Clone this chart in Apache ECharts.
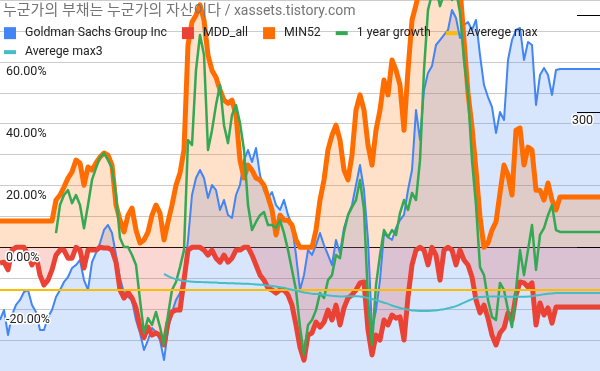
<!DOCTYPE html>
<html><head><meta charset="utf-8">
<script src="https://cdn.jsdelivr.net/npm/echarts@6/dist/echarts.min.js"></script>
<style>html,body{margin:0;padding:0;background:#fff}#c{width:600px;height:371px}</style>
</head><body><div id="c"></div>
<script>
const titleKo = '누군가의 부채는 누군가의 자산이다';
const titleEn = ' / xassets.tistory.com';
const seriesNames = ['Goldman Sachs Group Inc', 'MDD_all', 'MIN52', '1 year growth', 'Averege max', 'Averege max3'];

const goldman = [
87.2, 97.4, 71.8, 92.3, 102.6, 107.7, 115.9, 118.0, 102.6, 95.4,
76.9, 76.9, 90.2, 97.4, 110.8, 118.0, 126.2, 131.3, 140.5, 143.6,
148.8, 128.2, 118.0, 146.7, 156.0, 166.2, 179.6, 184.7, 176.5, 153.9,
130.3, 114.9, 110.8, 107.7, 87.2, 73.8, 56.4, 66.6, 78.9, 74.8,
66.6, 46.1, 76.9, 95.4, 107.7, 114.9, 133.4, 169.3, 215.5, 233.0,
241.2, 233.0, 212.4, 225.8, 220.6, 200.1, 210.4, 195.0, 191.9, 215.5,
225.8, 251.4, 261.7, 249.4, 263.8, 236.0, 220.6, 212.4, 218.6, 205.2,
200.1, 210.4, 195.0, 184.7, 153.9, 118.0, 133.4, 159.0, 153.9, 164.1,
176.5, 164.1, 153.9, 143.6, 169.3, 155.9, 181.6, 195.0, 205.2, 225.8,
246.3, 220.6, 169.3, 76.9, 97.4, 128.2, 176.5, 172.4, 169.3, 181.6,
189.8, 195.0, 220.6, 241.2, 302.8, 272.0, 323.3, 340.8, 347.9, 369.5,
374.6, 379.8, 384.9, 405.4, 397.2, 376.7, 390.0, 393.1, 384.9, 395.2,
359.2, 328.4, 316.1, 305.9, 279.2, 300.7, 292.5, 354.1, 374.6, 384.9,
387.0, 354.1, 372.6, 369.5, 307.9, 338.7, 345.9, 338.7, 318.2, 343.8,
344.9, 344.9, 344.9, 344.9, 344.9, 344.9, 344.9, 344.9, 344.9, 344.9, 344.9
];

const mddAll = [
-5.1, -4.8, -7.3, -0.9, 0, 0, 0, -2.5, -5.7, -2.5,
-9.0, -12.2, -10.6, -7.3, -2.5, -0.9, -0.9, -3.5, -3.5, 0,
-0.9, -6.7, -0.9, -0.9, -0.9, 0, -0.2, -0.2, -0.9, -4.8,
-13.8, -16.4, -14.5, -16.4, -19.6, -25.8, -29.2, -25.8, -28.4, -27.7,
-28.4, -31.6, -24.2, -20.9, -20.3, -20.3, -10.6, -0.9, 0, 0,
0, -0.9, -2.5, -0.9, -3.5, -4.8, -2.5, -4.8, -3.5, -0.9,
-0.9, 0, 0, -2.5, -5.7, -9.0, -10.6, -13.2, -13.8, -14.8,
-13.8, -13.8, -15.4, -18.7, -25.1, -32.3, -36.5, -28.4, -27.7, -24.2,
-25.8, -24.2, -20.3, -23.5, -18.7, -25.1, -19.6, -16.4, -15.4, -13.8,
-11.5, -11.2, -26.7, -34.8, -28.4, -30.0, -23.5, -25.1, -21.9, -22.9,
-22.5, -30.0, -16.1, -5.7, -0.9, 0, -0.9, -5.7, 0, -2.5,
-10.6, -0.9, 0, -0.9, -5.7, -0.9, -4.1, -5.7, -9.6, -17.0,
-21.2, -18.7, -22.9, -28.4, -31.6, -27.7, -26.1, -21.2, -23.5, -15.4,
-11.2, -11.5, -12.8, -11.5, -25.1, -18.0, -21.9, -19.6, -24.5, -19.3,
-19.3, -19.3, -19.3, -19.3, -19.3, -19.3, -19.3, -19.3, -19.3, -19.3, -19.3
];

const min52 = [
8.5, 8.5, 8.5, 8.5, 8.5, 8.5, 8.5, 8.5, 8.5, 8.5,
8.5, 8.5, 8.5, 8.5, 15.3, 16.9, 19.5, 22.4, 24.4, 28.2,
27.3, 20.1, 26.0, 25.0, 27.3, 29.2, 30.5, 29.8, 26.6, 13.7,
8.8, 5.0, 10.4, 12.7, 5.6, 1.4, 2.4, 4.9, 10.4, 13.7,
11.1, 2.4, 8.2, 13.7, 20.1, 24.0, 31.5, 65.4, 72.9, 75.1,
78.4, 73.5, 62.2, 57.2, 55.0, 50.9, 47.6, 46.6, 47.6, 42.8,
28.2, 22.4, 26.6, 25.0, 22.4, 21.8, 20.1, 16.3, 12.1, 4.0,
10.4, 8.8, 8.8, 7.2, 2.4, 0, 0, 0, 0, 5.6,
15.3, 21.8, 31.5, 36.3, 39.5, 34.7, 25.0, 21.8, 29.9, 44.4,
49.3, 44.4, 33.1, 26.6, 37.9, 44.4, 54.1, 49.3, 60.6, 57.3,
52.5, 37.9, 57.3, 73.5, 78.4, 84, 86, 88, 87, 90,
88, 86, 89, 87, 85, 84, 67.0, 49.9, 38.9, 25.0,
9.8, 0, 1.4, 5.6, 8.2, 17.6, 26.6, 23.4, 16.9, 37.9,
38.6, 26.6, 32.4, 31.5, 18.5, 18.5, 15.3, 20.8, 15.3, 12.1,
16.3, 16.3, 16.3, 16.3, 16.3, 16.3, 16.3, 16.3, 16.3, 16.3, 16.3
];

const growth1y = [
null, null, null, null, null, null, null, null, null, null,
null, null, null, null, 4.6, 13.7, 16.9, 18.5, 14.3, 16.9,
13.7, 6.2, 13.7, 21.8, 25.6, 29.2, 30.5, 28.2, 25.6, 16.9,
3.0, 0.1, 0.1, -2.5, -5.7, -17.0, -27.7, -22.9, -25.1, -20.9,
-25.8, -31.6, -21.9, -13.8, -11.2, -6.4, -0.9, 34.7, 33.1, 57.3,
68.7, 62.2, 31.5, 37.9, 46.0, 52.5, 39.5, 33.7, 42.8, 46.0,
40.2, 31.5, 13.7, 5.6, 8.2, 10.4, 11.4, 7.2, 7.2, 6.2,
8.8, 4.6, -0.9, -7.3, -13.8, -25.8, -34.8, -25.1, -23.5, -20.3,
-14.8, -16.4, -10.6, -9.0, -2.5, -3.5, 4.9, 10.4, 13.0, 15.3,
21.8, 12.1, -17.0, -31.6, -12.2, -2.5, 5.6, 3.3, 5.6, 4.0,
11.1, 15.3, 12.1, 17.6, 15.3, 28.2, 57.3, 76.8, 82, 84,
78, 82, 85, 80, 83, 76, 60.6, 49.9, 28.2, 13.7,
-6.4, -9.0, -17.0, -22.5, -23.5, -11.5, -13.8, -20.3, -25.8, -13.8,
-0.9, -9.0, -0.9, 7.2, -7.3, 4.0, 6.2, 10.4, 13.7, 5.6,
5.0, 5.0, 5.0, 5.0, 5.0, 5.0, 5.0, 5.0, 5.0, 5.0, 5.0
];

const averegeMax = -13.8;

const averegeMax3 = [
null, null, null, null, null, null, null, null, null, null,
null, null, null, null, null, null, null, null, null, null,
null, null, null, null, null, null, null, null, null, null,
null, null, null, null, null, null, null, null, null, null,
null, -8.6, -9.3, -9.9, -10.3, -10.6, -10.9, -11.0, -11.1, -11.2,
-11.2, -11.3, -11.3, -11.4, -11.4, -11.5, -11.5, -11.6, -11.6, -11.7,
-11.7, -11.8, -11.8, -11.9, -12.0, -12.1, -12.2, -12.4, -12.5, -12.7,
-12.9, -13.1, -13.4, -13.7, -14.0, -14.3, -14.6, -14.8, -15.0, -15.1,
-15.2, -15.4, -15.5, -15.7, -15.8, -15.9, -15.9, -15.8, -15.8, -15.8,
-15.9, -16.1, -16.4, -16.7, -17.1, -17.5, -17.9, -18.3, -18.8, -19.2,
-19.6, -19.9, -20.2, -20.4, -20.5, -20.6, -20.6, -20.6, -20.5, -20.4,
-20.2, -20.0, -19.7, -19.4, -19.0, -18.5, -17.9, -17.3, -16.8, -16.4,
-16.1, -16.0, -15.9, -15.9, -15.9, -15.9, -15.9, -16.0, -16.0, -16.0,
-16.0, -16.0, -15.9, -15.8, -15.6, -15.4, -15.2, -15.0, -14.9, -14.8,
-14.8, -14.8, -14.8, -14.8, -14.8, -14.8, -14.8, -14.8, -14.8, -14.8, -14.8
];

const leftTicks = [60, 40, 20, 0, -20];
const rightLabelTicks = [300];
const rightMarkTicks = [300, 400];

const categories = goldman.map((_, i) => 'd' + i);

const FONT = 'Roboto, "Noto Sans CJK KR", sans-serif';
const LEFT_MIN = -40, LEFT_MAX = 80;
const RIGHT_MIN = 34.8, RIGHT_MAX = 415.7;
const lineIcon = 'path://M0,0H12V4H0Z';
const legendText = {fontSize: 12.3, color: '#222', fontFamily: FONT, padding: [0, 0, 0, 4]};

const chart = echarts.init(document.getElementById('c'), null, {renderer: 'canvas'});
chart.setOption({
  animation: false,
  backgroundColor: '#fff',
  title: {
    text: '{k|' + titleKo + '}{l|' + titleEn + '}', left: 3, top: 4, padding: 0,
    textStyle: {color: '#757575', fontWeight: 'normal', fontFamily: FONT,
      rich: {k: {fontSize: 15, color: '#757575', fontFamily: FONT},
             l: {fontSize: 14, color: '#757575', fontFamily: FONT}}}
  },
  legend: [{
    left: 4, top: 27, padding: 0, itemWidth: 12, itemHeight: 12, itemGap: 15,
    selectedMode: false, textStyle: legendText,
    data: [
      {name: seriesNames[0], icon: 'rect'},
      {name: seriesNames[1], icon: 'rect'},
      {name: seriesNames[2], icon: 'rect'},
      {name: seriesNames[3], icon: lineIcon},
      {name: seriesNames[4], icon: lineIcon}
    ]
  }, {
    left: 4, top: 46, padding: 0, itemWidth: 12, itemHeight: 12,
    selectedMode: false, textStyle: legendText,
    data: [{name: seriesNames[5], icon: lineIcon}]
  }],
  grid: {left: 0, right: 0, top: 0, bottom: 0, containLabel: false},
  xAxis: {
    type: 'category', data: categories, boundaryGap: false,
    axisLabel: {show: false}, axisTick: {show: false}, splitLine: {show: false},
    axisLine: {show: true, onZero: true, onZeroAxisIndex: 0, lineStyle: {color: '#000', width: 1}}
  },
  yAxis: [
    {type: 'value', min: LEFT_MIN, max: LEFT_MAX, interval: 10, position: 'left',
     axisLabel: {show: false}, axisLine: {show: false}, axisTick: {show: false},
     splitLine: {show: true, lineStyle: {color: '#cccccc', width: 1}}},
    {type: 'value', min: RIGHT_MIN, max: RIGHT_MAX, position: 'right',
     axisLabel: {show: false}, axisLine: {show: false}, axisTick: {show: false}, splitLine: {show: false}},
    {type: 'value', min: LEFT_MIN, max: LEFT_MAX, interval: 10, position: 'left', z: 10,
     axisLine: {show: false}, axisTick: {show: false}, splitLine: {show: false},
     axisLabel: {inside: true, margin: 6, verticalAlign: 'top', padding: [4, 0, 0, 0],
       color: '#222', fontSize: 12.5, fontFamily: FONT,
       textBorderColor: '#fff', textBorderWidth: 3,
       formatter: v => leftTicks.indexOf(v) >= 0 ? v.toFixed(2) + '%' : ''}},
    {type: 'value', min: RIGHT_MIN, max: RIGHT_MAX, position: 'right', z: 10,
     axisLine: {show: false}, splitLine: {show: false},
     axisTick: {show: true, inside: true, length: 23, customValues: rightMarkTicks, lineStyle: {color: '#000', width: 1}},
     axisLabel: {inside: true, margin: 7, verticalAlign: 'top', padding: [2, 0, 0, 0], customValues: rightLabelTicks,
       color: '#222', fontSize: 12.5, fontFamily: FONT, textBorderColor: '#fff', textBorderWidth: 3}},
    {type: 'value', min: LEFT_MIN, max: LEFT_MAX, position: 'right', z: 10,
     axisLine: {show: false}, splitLine: {show: false}, axisLabel: {show: false},
     axisTick: {show: true, inside: true, length: 23, customValues: [0], lineStyle: {color: '#000', width: 1}}}
  ],
  series: [
    {name: seriesNames[0], type: 'line', yAxisIndex: 1, data: goldman, color: '#4285F4',
     symbol: 'none', lineStyle: {width: 2, join: 'round'},
     areaStyle: {color: 'rgba(66,133,244,0.3)', origin: 'start'}},
    {name: seriesNames[1], type: 'line', yAxisIndex: 0, data: mddAll, color: '#EA4335',
     symbol: 'none', lineStyle: {width: 5, join: 'round'},
     areaStyle: {color: 'rgba(234,67,53,0.3)', origin: 'auto'}},
    {name: seriesNames[2], type: 'line', yAxisIndex: 0, data: min52, color: '#FF6D01',
     symbol: 'none', lineStyle: {width: 5, join: 'round'},
     areaStyle: {color: 'rgba(255,109,1,0.3)', origin: 'auto'}},
    {name: seriesNames[3], type: 'line', yAxisIndex: 0, data: growth1y, color: '#34A853',
     symbol: 'none', lineStyle: {width: 2.5, join: 'round'}},
    {name: seriesNames[4], type: 'line', yAxisIndex: 0, data: categories.map(() => averegeMax), color: '#FBBC04',
     symbol: 'none', lineStyle: {width: 2}},
    {name: seriesNames[5], type: 'line', yAxisIndex: 0, data: averegeMax3, color: '#46BDC6',
     symbol: 'none', smooth: true, lineStyle: {width: 2}}
  ]
});
</script>
</body></html>
